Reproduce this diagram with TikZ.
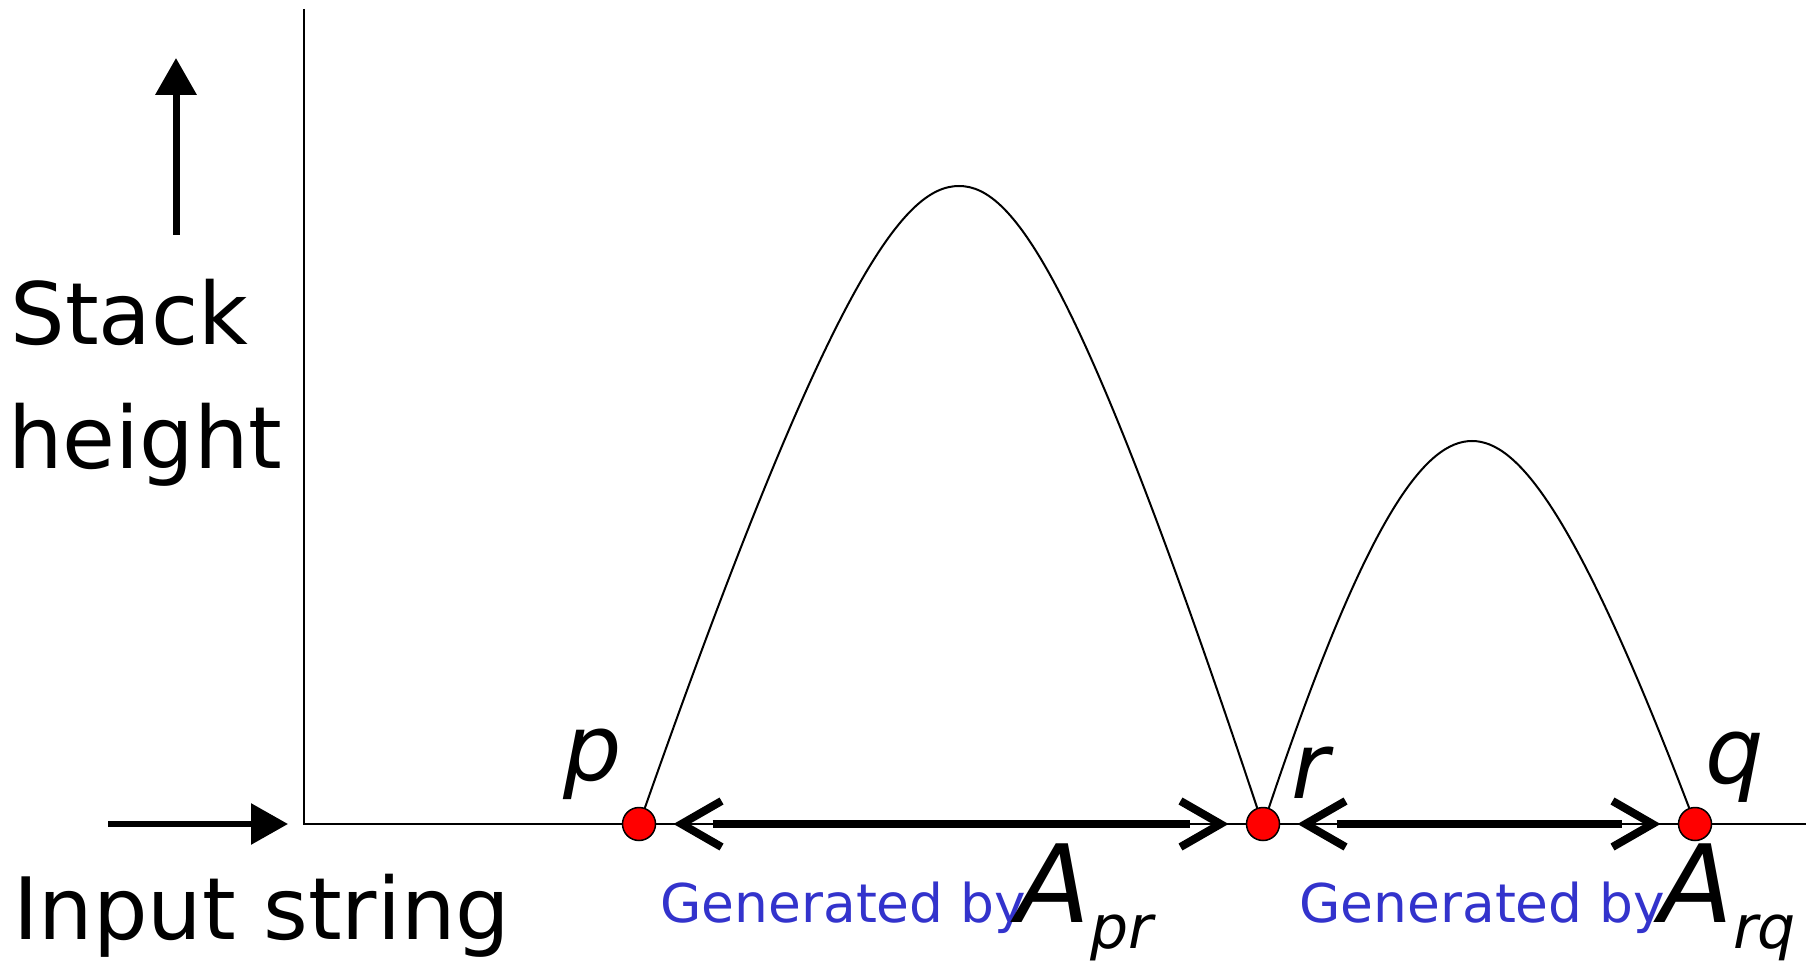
\documentclass[tikz,border=0pt]{standalone}
\usepackage{fontspec}
\setmainfont{DejaVu Sans}
\usetikzlibrary{arrows.meta}
\definecolor{dotRed}{HTML}{FF0000}
\definecolor{genBlue}{HTML}{3333CC}

\begin{document}
\begin{tikzpicture}[x=0.5pt, y=-0.5pt,
          axisline/.style={line width=1pt},
          hump/.style={line width=1pt},
          lift/.style={line width=3.5pt, -{Triangle[length=18.5pt, width=20pt]}},
          dotState/.style={circle, draw, line width=0.75pt, fill=dotRed, minimum size=16.5pt, inner sep=0pt, outer sep=0pt},
          bigText/.style={font=\fontsize{43pt}{52pt}\selectfont, inner sep=0pt, anchor=base west},
          stateLabel/.style={font=\fontsize{46pt}{53pt}\selectfont\itshape, inner sep=0pt, anchor=base west},
          genLabel/.style={font=\fontsize{26.7pt}{32pt}\selectfont, text=genBlue, inner sep=0pt, anchor=base west},
          spanTips/.style={line width=1pt, {Straight Barb[length=20pt, width=23pt, line width=4pt, sharp]}-{Straight Barb[length=20pt, width=23pt, line width=4pt, sharp]}, shorten <=9pt, shorten >=9pt},
          spanBar/.style={line width=3.75pt, shorten <=28.5pt, shorten >=28.5pt}]
        \useasboundingbox (0,0) rectangle (1818,961);
        % axes
        \coordinate (top) at (304,9);
        \coordinate (origin) at (304,824);
        \coordinate (far) at (1806,824);
        \draw[axisline] (top) -- (origin) -- (far);
        % direction arrows and their texts
        \coordinate (up0) at (176,235);
        \coordinate (up1) at (176,58);
        \coordinate (in0) at (108,824);
        \coordinate (in1) at (288,824);
        \draw[lift] (up0) -- (up1);
        \draw[lift, line width=3pt] (in0) -- (in1);
        \node[bigText] (stack) at (10,345) {Stack};
        \node[bigText] (height) at (8,469) {height};
        \node[bigText] (input) at (13,939) {Input string};
        % states on the input
        \node[dotState] (p) at (639,824) {};
        \node[dotState] (r) at (1263,824) {};
        \node[dotState] (q) at (1695,824) {};
        \node[stateLabel] (plab) at (563,780) {p};
        \node[stateLabel] (rlab) at (1291,798) {r};
        \node[stateLabel] (qlab) at (1705,783) {q};
        % stack height curves
        \draw[hump] (p.70) .. controls (831,279) and (904,186) .. (959,186)
          .. controls (1014,186) and (1081,279) .. (r.110);
        \draw[hump] (r.70) .. controls (1369,509) and (1427,441) .. (1472,441)
          .. controls (1517,441) and (1575,509) .. (q.110);
        \foreach \a/\b in {p/r, r/q} {
          \draw[spanTips] (\a) -- (\b);
          \draw[spanBar] (\a) -- (\b);
        }
        \node[genLabel] (genpr) at (660,922) {Generated by};
        \node[genLabel] (genrq) at (1299,922) {Generated by};
        \node[stateLabel, font=\fontsize{54pt}{60pt}\selectfont\itshape] (apr) at (1016,922) {A\fontsize{30pt}{36pt}\selectfont\raisebox{-13pt}{pr}};
        \node[stateLabel, font=\fontsize{54pt}{60pt}\selectfont\itshape] (arq) at (1659,922) {A\fontsize{30pt}{36pt}\selectfont\raisebox{-13pt}{rq}};
      \end{tikzpicture}
\end{document}
